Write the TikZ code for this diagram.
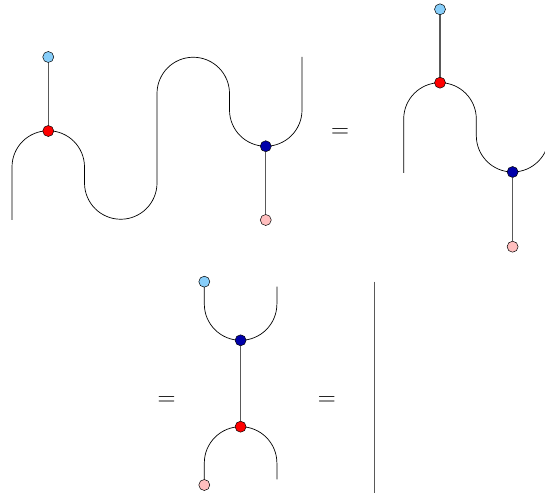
\documentclass[tikz,border=0pt]{standalone}
\begin{document}
\begin{tikzpicture}[x=1pt,y=1pt,
  wire/.style={draw=black,line width=0.7pt},
  stem/.style={draw=black!65,line width=1.1pt},
  dot/.style={circle,draw=black,line width=0.5pt,inner sep=0pt,minimum size=11pt},
  unitdot/.style={dot,fill={rgb,255:red,135;green,206;blue,250}},
  counitdot/.style={dot,fill={rgb,255:red,255;green,190;blue,190}},
  multdot/.style={dot,fill={rgb,255:red,255;green,0;blue,0}},
  comultdot/.style={dot,fill={rgb,255:red,0;green,0;blue,170}},
  eqsign/.style={font=\fontsize{23}{27}\selectfont,inner sep=0pt}]
\useasboundingbox (0,0) rectangle (545,498);
\clip (0,0) rectangle (545,498);

% ---- first diagram: snake with unit and counit ----
\coordinate (w1s) at (12,278);
\coordinate (w1e) at (302,441);
\draw[wire] (w1s) -- (12,331) arc[start angle=180,end angle=0,radius=36.25]
  -- (84.5,315) arc[start angle=180,end angle=360,radius=36.25]
  -- (157,404.5) arc[start angle=180,end angle=0,radius=36.25]
  -- (229.5,388) arc[start angle=180,end angle=360,radius=36.25]
  -- (w1e);
\node[unitdot] (lb1) at (48.25,441) {};
\node[multdot] (red1) at (48.25,367) {};
\node[comultdot] (blue1) at (265.75,351.75) {};
\node[counitdot] (pk1) at (265.75,278) {};
\draw[stem] (lb1) -- (red1);
\draw[stem] (blue1) -- (pk1);

\node[eqsign] (eq1) at (340,365) {$=$};

% ---- second diagram ----
\coordinate (w2s) at (403.7,325);
\draw[wire] (w2s) -- (403.7,379) arc[start angle=180,end angle=0,radius=36.3]
  -- (476.3,362.3) arc[start angle=180,end angle=360,radius=36.3];
\node[unitdot] (lb2) at (440,488.7) {};
\node[multdot] (red2) at (440,415.3) {};
\node[comultdot] (blue2) at (512.6,326) {};
\node[counitdot] (pk2) at (512.6,251.3) {};
\draw[stem] (lb2) -- (red2);
\draw[stem] (blue2) -- (pk2);

% ---- third diagram ----
\coordinate (w3e) at (276.9,211.3);
\coordinate (w4e) at (276.9,18.7);
\node[eqsign] (eq2) at (166.7,97.3) {$=$};
\draw[wire] (204.3,216.3) -- (204.3,194) arc[start angle=180,end angle=360,radius=36.3]
  -- (w3e);
\draw[wire] (204.3,13) -- (204.3,35) arc[start angle=180,end angle=0,radius=36.3]
  -- (w4e);
\node[unitdot] (lb3) at (204.3,216.3) {};
\node[comultdot] (blue3) at (240.6,157.7) {};
\node[multdot] (red3) at (240.6,71.3) {};
\node[counitdot] (pk3) at (204.3,13) {};
\draw[stem] (blue3) -- (red3);

\node[eqsign] (eq3) at (326.7,97.3) {$=$};

% ---- identity wire ----
\coordinate (idt) at (374.3,216.3);
\coordinate (idb) at (374.3,5.3);
\draw[stem] (idt) -- (idb);
\end{tikzpicture}
\end{document}
